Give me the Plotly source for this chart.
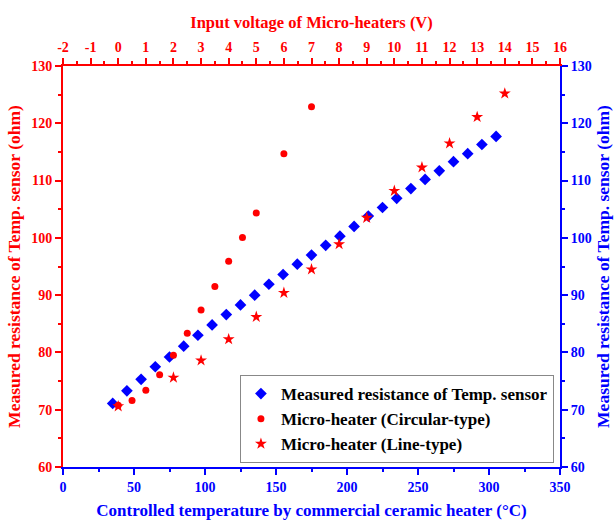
import plotly.graph_objects as go

# Temperature sensor (bottom axis, °C)
temp_c = [35, 45, 55, 65, 75, 85, 95, 105, 115, 125, 135, 145, 155, 165, 175,
          185, 195, 205, 215, 225, 235, 245, 255, 265, 275, 285, 295, 305]
temp_res = [71.1, 73.3, 75.3, 77.5, 79.2, 81.1, 83.0, 84.8, 86.6, 88.3, 90.0, 91.9, 93.6, 95.4, 97.0,
            98.7, 100.3, 102.0, 103.8, 105.3, 106.9, 108.6, 110.2, 111.7, 113.3, 114.7, 116.3, 117.7]

# Circular-type micro-heater (top axis, V)
circ_v = [0, 0.5, 1, 1.5, 2, 2.5, 3, 3.5, 4, 4.5, 5, 6, 7]
circ_res = [70.8, 71.6, 73.4, 76.1, 79.5, 83.35, 87.4, 91.5, 95.9, 100.05, 104.35, 114.7, 122.9]

# Line-type micro-heater (top axis, V)
line_v = [0, 2, 3, 4, 5, 6, 7, 8, 9, 10, 11, 12, 13, 14]
line_res = [70.6, 75.6, 78.6, 82.3, 86.2, 90.4, 94.5, 98.9, 103.5, 108.2, 112.3, 116.5, 121.1, 125.2]

top_ticks = list(range(-2, 17))
top_labels = [str(v) for v in top_ticks]

RED = "#ff0000"
BLUE = "#0000ff"
FONT = "Liberation Serif"

fig = go.Figure()
fig.add_trace(go.Scatter(x=temp_c, y=temp_res, mode="markers", xaxis="x", yaxis="y",
                         name="Measured resistance of Temp. sensor",
                         marker=dict(symbol="diamond", size=9, color=BLUE)))
fig.add_trace(go.Scatter(x=circ_v, y=circ_res, mode="markers", xaxis="x2", yaxis="y",
                         name="Micro-heater (Circular-type)",
                         marker=dict(symbol="circle", size=7, color=RED)))
fig.add_trace(go.Scatter(x=line_v, y=line_res, mode="markers", xaxis="x2", yaxis="y",
                         name="Micro-heater (Line-type)",
                         marker=dict(symbol="star", size=9, color=RED)))
# invisible trace to keep right axis active
fig.add_trace(go.Scatter(x=[temp_c[0]], y=[temp_res[0]], mode="markers", xaxis="x", yaxis="y2",
                         showlegend=False, hoverinfo="skip",
                         marker=dict(size=1, color="rgba(0,0,0,0)")))

tickfont_b = dict(family=FONT, size=14, color=BLUE, weight="bold")
tickfont_r = dict(family=FONT, size=14, color=RED, weight="bold")

fig.update_layout(
    width=616, height=523,
    margin=dict(l=63, r=56, t=66, b=56),
    paper_bgcolor="white", plot_bgcolor="white",
    showlegend=True,
    legend=dict(x=0.356, y=0.01, xanchor="left", yanchor="bottom",
                bgcolor="white", bordercolor="#888888", borderwidth=1,
                font=dict(family=FONT, size=17, color="black", weight="bold"),
                tracegroupgap=0),
    xaxis=dict(range=[0, 350], tickvals=[0, 50, 100, 150, 200, 250, 300, 350], anchor="y",
               automargin=False,
               showline=True, linecolor=BLUE, linewidth=2, showgrid=False, zeroline=False,
               ticks="outside", ticklen=6, tickwidth=1.5, tickcolor=BLUE,
               minor=dict(ticks="outside", ticklen=3, tickcolor=BLUE, dtick=25, tick0=0, showgrid=False),
               tickfont=tickfont_b,
               title=dict(text="Controlled temperature by commercial ceramic heater (°C)",
                          font=dict(family=FONT, size=17, color=BLUE, weight="bold"), standoff=10)),
    xaxis2=dict(range=[-2, 16], overlaying="x", side="top", anchor="y", automargin=False,
                tickvals=top_ticks, ticktext=top_labels,
                showline=True, linecolor=RED, linewidth=2, showgrid=False, zeroline=False,
                ticks="outside", ticklen=6, tickwidth=1.5, tickcolor=RED,
                minor=dict(ticks="outside", ticklen=3, tickcolor=RED, dtick=0.5, tick0=-2, showgrid=False),
                tickfont=tickfont_r,
                title=dict(text="Input voltage of Micro-heaters (V)",
                           font=dict(family=FONT, size=16.5, color=RED, weight="bold"), standoff=8)),
    yaxis=dict(range=[60, 130], dtick=10, tick0=60, anchor="x", automargin=False,
               showline=True, linecolor=RED, linewidth=2, showgrid=False, zeroline=False,
               ticks="outside", ticklen=6, tickwidth=1.5, tickcolor=RED,
               minor=dict(ticks="outside", ticklen=3, tickcolor=RED, dtick=5, showgrid=False),
               tickfont=tickfont_r,
               title=dict(text="Measured resistance of Temp. sensor (ohm)",
                          font=dict(family=FONT, size=17.5, color=RED, weight="bold"), standoff=6)),
    yaxis2=dict(range=[60, 130], overlaying="y", side="right", anchor="x", dtick=10, tick0=60,
                automargin=False,
                showline=True, linecolor=BLUE, linewidth=2, showgrid=False, zeroline=False,
                ticks="outside", ticklen=6, tickwidth=1.5, tickcolor=BLUE,
                minor=dict(ticks="outside", ticklen=3, tickcolor=BLUE, dtick=5, showgrid=False),
                tickfont=tickfont_b,
                title=dict(text="Measured resistance of Temp. sensor (ohm)",
                           font=dict(family=FONT, size=17.5, color=BLUE, weight="bold"), standoff=6)),
)

fig.write_html("out.html")
